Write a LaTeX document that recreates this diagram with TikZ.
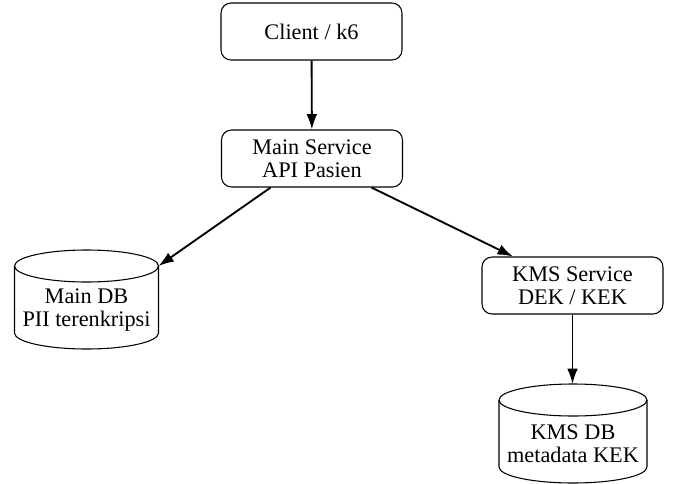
\documentclass[tikz,border=0pt]{standalone}
\usepackage{fontspec}
\setmainfont{Liberation Serif}
\usetikzlibrary{arrows.meta}
\begin{document}
\begin{tikzpicture}[x=0.75pt,y=-0.75pt,
  every node/.style={font=\fontsize{16.7}{17.25}\selectfont},
  svcbox/.style={draw,line width=0.8pt,rounded corners=7.5pt,minimum width=135.75pt,minimum height=42.75pt,inner sep=0pt,align=center},
  dbtext/.style={inner sep=0pt,align=center},
  dbline/.style={draw,line width=0.8pt},
  arr/.style={line width=1.4pt,-{Latex[length=11.5pt,width=8pt]}}]
\useasboundingbox (0,0) rectangle (675,483);
% services
\node[svcbox] (client) at (311.5,31.5) {Client / k6};
\node[svcbox] (main) at (312,158.5) {Main Service\\API Pasien};
\node[svcbox] (kms) at (572.5,285.5) {KMS Service\\DEK / KEK};
% Main DB cylinder
\path[dbline] (86.5,266) ellipse[x radius=72, y radius=16];
\path[dbline] (14.5,266) -- (14.5,333)
  .. controls (14.5,341.84) and (46.7,349) .. (86.5,349)
  .. controls (126.3,349) and (158.5,341.84) .. (158.5,333) -- (158.5,266);
\node[dbtext] (maindb) at (86.5,310) {Main DB\\PII terenkripsi};
\coordinate (maindbin) at (158.5,266);
% KMS DB cylinder
\path[dbline] (573,400) ellipse[x radius=74, y radius=16];
\path[dbline] (499,400) -- (499,467)
  .. controls (499,475.84) and (532.1,483) .. (573,483)
  .. controls (613.9,483) and (647,475.84) .. (647,467) -- (647,400);
\node[dbtext] (kmsdb) at (573,444) {KMS DB\\metadata KEK};
\coordinate (kmsdbin) at (572.5,384);
% connectors
\draw[arr] (client) -- (main);
\draw[arr] (main) -- (maindbin);
\draw[arr] (main) -- (kms);
\draw[arr] (kms) -- (kmsdbin);
\end{tikzpicture}
\end{document}
